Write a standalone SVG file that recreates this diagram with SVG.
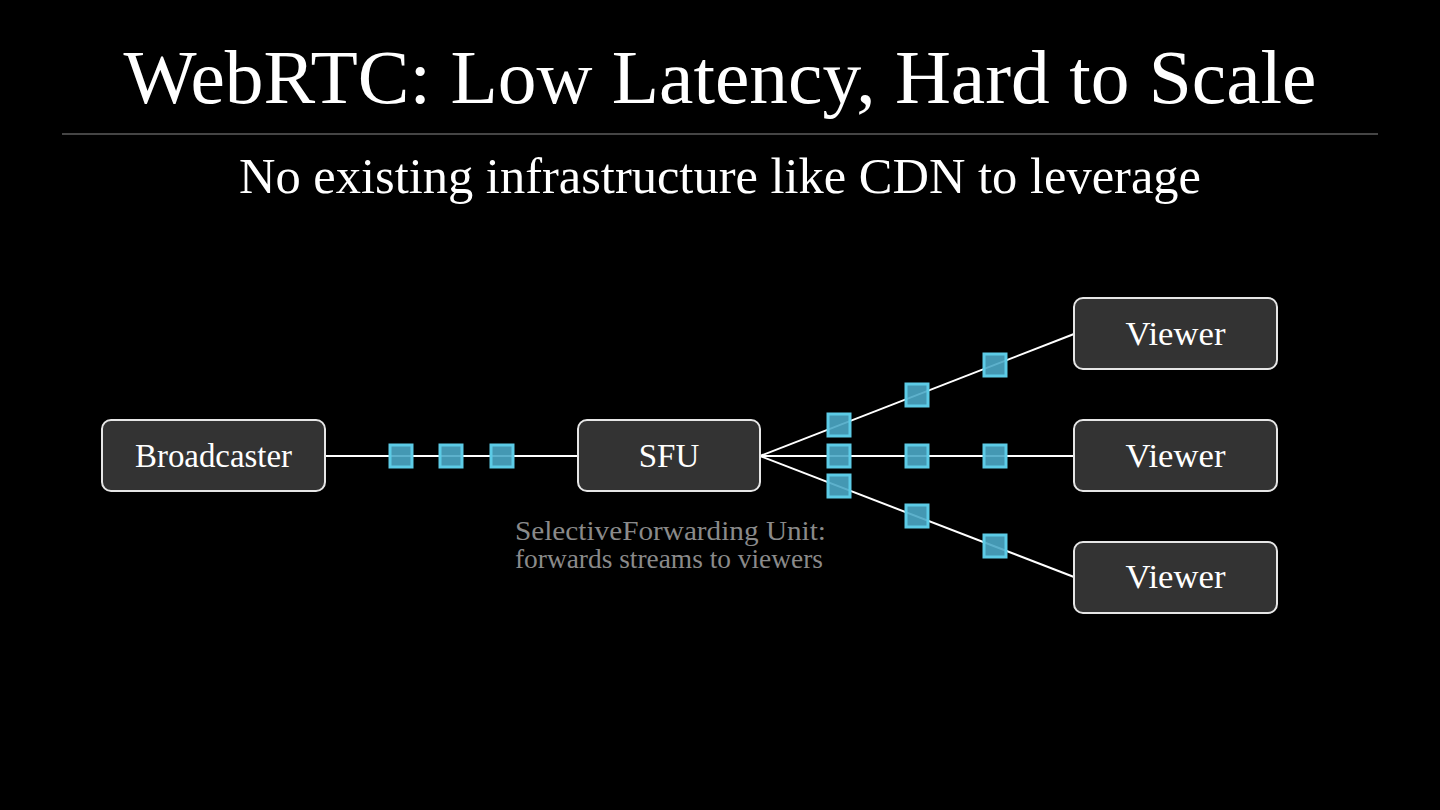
<svg xmlns="http://www.w3.org/2000/svg" width="1440" height="810" viewBox="0 0 1440 810">
<style>
.box{fill:#333333;stroke:#e6e6e6;stroke-width:2}
.lbl{font-family:"Liberation Serif","Times New Roman",serif;font-size:33px;fill:#ffffff;text-anchor:middle}
.conn{stroke:#ffffff;stroke-width:2;fill:none}
.pkt{fill:#4ba9c7;fill-opacity:0.9;stroke:#5ccbe6;stroke-width:3}
.cap{font-family:"Liberation Serif","Times New Roman",serif;font-size:27px;fill:#8a8a8a}
</style>
<defs>
<rect id="p" x="-11" y="-11" width="22" height="22" class="pkt"/>
</defs>
<rect width="1440" height="810" fill="#000000"/>
<text x="720" y="103" font-family="Liberation Serif, Times New Roman, serif" font-size="77" fill="#ffffff" text-anchor="middle" textLength="1193" lengthAdjust="spacingAndGlyphs">WebRTC: Low Latency, Hard to Scale</text>
<line x1="62" y1="134" x2="1378" y2="134" stroke="#8a8a8a" stroke-width="1"/>
<text x="720" y="193" font-family="Liberation Serif, Times New Roman, serif" font-size="50" fill="#ffffff" text-anchor="middle" textLength="962" lengthAdjust="spacingAndGlyphs">No existing infrastructure like CDN to leverage</text>

<g id="connectors">
<line class="conn" x1="325" y1="456" x2="578" y2="456"/>
<line class="conn" x1="760" y1="456" x2="1074" y2="334"/>
<line class="conn" x1="760" y1="456" x2="1074" y2="456"/>
<line class="conn" x1="760" y1="456" x2="1074" y2="577"/>
</g>

<g id="packets">
<use href="#p" x="401" y="456"/>
<use href="#p" x="451" y="456"/>
<use href="#p" x="502" y="456"/>
<use href="#p" x="839" y="425"/>
<use href="#p" x="917" y="395"/>
<use href="#p" x="995" y="365"/>
<use href="#p" x="839" y="456"/>
<use href="#p" x="917" y="456"/>
<use href="#p" x="995" y="456"/>
<use href="#p" x="839" y="486"/>
<use href="#p" x="917" y="516"/>
<use href="#p" x="995" y="546"/>
</g>

<g id="broadcaster">
<rect class="box" x="102" y="420" width="223" height="71" rx="9"/>
<text class="lbl" x="213.5" y="467" textLength="157" lengthAdjust="spacingAndGlyphs">Broadcaster</text>
</g>
<g id="sfu">
<rect class="box" x="578" y="420" width="182" height="71" rx="9"/>
<text class="lbl" x="669" y="467">SFU</text>
</g>
<g id="viewer1">
<rect class="box" x="1074" y="298" width="203" height="71" rx="9"/>
<text class="lbl" x="1175.5" y="345" textLength="100" lengthAdjust="spacingAndGlyphs">Viewer</text>
</g>
<g id="viewer2">
<rect class="box" x="1074" y="420" width="203" height="71" rx="9"/>
<text class="lbl" x="1175.5" y="467" textLength="100" lengthAdjust="spacingAndGlyphs">Viewer</text>
</g>
<g id="viewer3">
<rect class="box" x="1074" y="542" width="203" height="71" rx="9"/>
<text class="lbl" x="1175.5" y="588" textLength="100" lengthAdjust="spacingAndGlyphs">Viewer</text>
</g>
<g id="sfu-caption">
<text class="cap" x="515" y="540" textLength="311" lengthAdjust="spacingAndGlyphs">SelectiveForwarding Unit:</text>
<text class="cap" x="515" y="568" textLength="308" lengthAdjust="spacingAndGlyphs">forwards streams to viewers</text>
</g>
</svg>
